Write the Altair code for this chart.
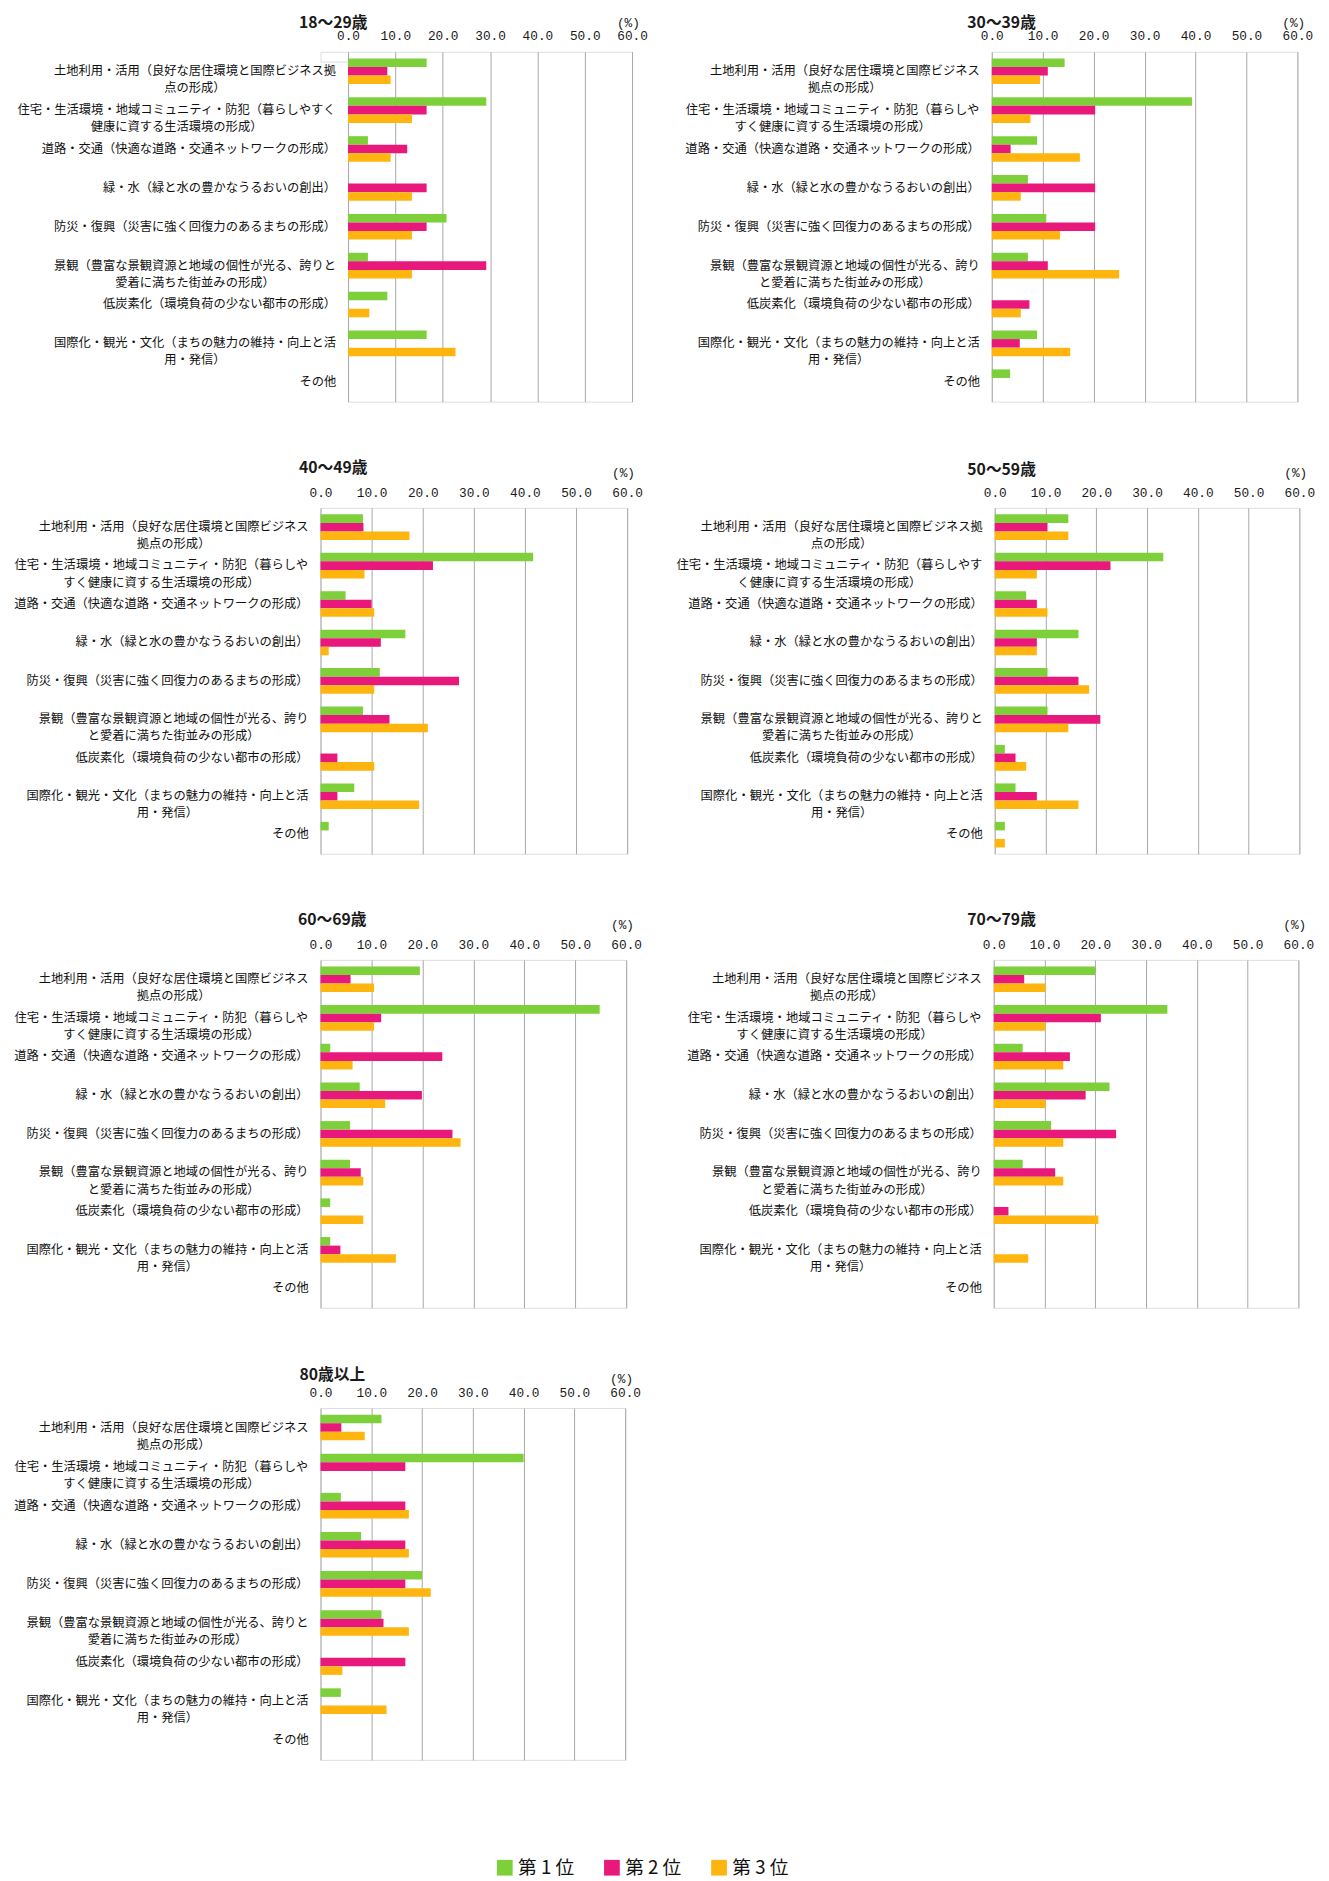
import altair as alt
import pandas as pd

FONT = "Noto Sans CJK JP"
MONO = "Liberation Mono"

ages = ["18～29歳", "30～39歳", "40～49歳", "50～59歳", "60～69歳", "70～79歳", "80歳以上"]
categories = [
    "土地利用・活用（良好な居住環境と国際ビジネス拠点の形成）",
    "住宅・生活環境・地域コミュニティ・防犯（暮らしやすく健康に資する生活環境の形成）",
    "道路・交通（快適な道路・交通ネットワークの形成）",
    "緑・水（緑と水の豊かなうるおいの創出）",
    "防災・復興（災害に強く回復力のあるまちの形成）",
    "景観（豊富な景観資源と地域の個性が光る、誇りと愛着に満ちた街並みの形成）",
    "低炭素化（環境負荷の少ない都市の形成）",
    "国際化・観光・文化（まちの魅力の維持・向上と活用・発信）",
    "その他",
]
ranks = ["第 1 位", "第 2 位", "第 3 位"]
rank_colors = ["#7ed03b", "#e8197b", "#ffb50f"]
ticks = [0, 10, 20, 30, 40, 50, 60]

# values (%), per age group and rank
v18_29_r1 = [16.6, 29.2, 4.2, 0, 20.8, 4.2, 8.3, 16.6, 0]
v18_29_r2 = [8.3, 16.6, 12.5, 16.6, 16.6, 29.2, 0, 0, 0]
v18_29_r3 = [9.0, 13.5, 9.0, 13.5, 13.5, 13.5, 4.5, 22.7, 0]

v30_39_r1 = [14.3, 39.3, 8.9, 7.1, 10.7, 7.1, 0, 8.9, 3.6]
v30_39_r2 = [11.0, 20.3, 3.7, 20.3, 20.3, 11.0, 7.4, 5.5, 0]
v30_39_r3 = [9.5, 7.6, 17.3, 5.7, 13.4, 25.0, 5.7, 15.4, 0]

v40_49_r1 = [8.3, 41.6, 4.9, 16.6, 11.6, 8.3, 0, 6.6, 1.6]
v40_49_r2 = [8.4, 22.0, 10.0, 11.8, 27.1, 13.5, 3.3, 3.3, 0]
v40_49_r3 = [17.4, 8.6, 10.5, 1.6, 10.5, 21.0, 10.5, 19.3, 0]

v50_59_r1 = [14.5, 33.2, 6.2, 16.5, 10.4, 10.4, 2.0, 4.1, 2.0]
v50_59_r2 = [10.4, 22.8, 8.3, 8.3, 16.5, 20.8, 4.1, 8.3, 0]
v50_59_r3 = [14.5, 8.3, 10.4, 8.3, 18.6, 14.5, 6.2, 16.5, 2.0]

v60_69_r1 = [19.5, 54.8, 1.9, 7.7, 5.8, 5.8, 1.9, 1.9, 0]
v60_69_r2 = [5.9, 11.9, 23.9, 19.9, 25.9, 7.9, 0, 3.9, 0]
v60_69_r3 = [10.5, 10.5, 6.3, 12.7, 27.5, 8.4, 8.4, 14.8, 0]

v70_79_r1 = [20.0, 34.2, 5.7, 22.8, 11.3, 5.7, 0, 0, 0]
v70_79_r2 = [6.0, 21.1, 15.0, 18.1, 24.1, 12.1, 2.9, 0, 0]
v70_79_r3 = [10.2, 10.2, 13.7, 10.2, 13.7, 13.7, 20.6, 6.8, 0]

v80_r1 = [12.0, 40.0, 4.0, 8.0, 20.0, 12.0, 0, 4.0, 0]
v80_r2 = [4.1, 16.7, 16.7, 16.7, 16.7, 12.4, 16.7, 0, 0]
v80_r3 = [8.7, 0, 17.4, 17.4, 21.7, 17.4, 4.3, 13.0, 0]

series = {
    "18～29歳": (v18_29_r1, v18_29_r2, v18_29_r3),
    "30～39歳": (v30_39_r1, v30_39_r2, v30_39_r3),
    "40～49歳": (v40_49_r1, v40_49_r2, v40_49_r3),
    "50～59歳": (v50_59_r1, v50_59_r2, v50_59_r3),
    "60～69歳": (v60_69_r1, v60_69_r2, v60_69_r3),
    "70～79歳": (v70_79_r1, v70_79_r2, v70_79_r3),
    "80歳以上": (v80_r1, v80_r2, v80_r3),
}

# where the long labels wrap (characters on first line) for categories 1, 2, 6, 8
wraps = {
    "18～29歳": (23, 26, 23, 23),
    "30～39歳": (22, 24, 22, 23),
    "40～49歳": (22, 24, 22, 23),
    "50～59歳": (23, 25, 23, 23),
    "60～69歳": (22, 24, 22, 23),
    "70～79歳": (22, 24, 22, 23),
    "80歳以上": (22, 24, 23, 23),
}

# layout: plot width, height, title dx, title dy, (%) dy
layout = {
    "18～29歳": (289, 356, -15, -29, -29),
    "30～39歳": (311, 356, 10, -29, -29),
    "40～49歳": (312, 352, 13, -40, -35),
    "50～59歳": (310, 352, 7, -38, -35),
    "60～69歳": (311, 354, 12, -40, -35),
    "70～79歳": (310, 354, 8, -40, -35),
    "80歳以上": (310, 358, 12, -34, -29),
}

LFS = 12.5


def wrapped_labels(age):
    w = wraps[age]
    idx = {0: w[0], 1: w[1], 5: w[2], 7: w[3]}
    out = []
    for i, c in enumerate(categories):
        if i in idx and idx[i] < len(c):
            out.append(c[: idx[i]] + "\n" + c[idx[i]:])
        else:
            out.append(c)
    return out


def panel(age):
    width, height, tdx, tdy, pdy = layout[age]
    r1, r2, r3 = series[age]
    rows = []
    for rk, vals in zip(ranks, (r1, r2, r3)):
        for c, v in zip(categories, vals):
            rows.append({"cat": c, "rank": rk, "value": v})
    df = pd.DataFrame(rows)
    ldf = pd.DataFrame({"cat": categories, "label": wrapped_labels(age)})

    yenc = alt.Y(
        "cat:N",
        sort=categories,
        axis=None,
        scale=alt.Scale(paddingInner=0.34, paddingOuter=0.17),
    )

    bars = alt.Chart(df).mark_bar().encode(
        x=alt.X(
            "value:Q",
            scale=alt.Scale(domain=[0, 60], nice=False),
            axis=alt.Axis(
                orient="top",
                values=ticks,
                format=".1f",
                grid=True,
                gridColor="#a6a6a6",
                gridWidth=1,
                domain=False,
                ticks=False,
                tickSize=0,
                labelFont=MONO,
                labelFontSize=13,
                labelColor="#1a1a1a",
                labelPadding=9,
                labelFlush=False,
                title=None,
            ),
        ),
        y=yenc,
        yOffset=alt.YOffset(
            "rank:N", sort=ranks, scale=alt.Scale(paddingInner=0, paddingOuter=0)
        ),
        color=alt.Color(
            "rank:N",
            sort=ranks,
            scale=alt.Scale(domain=ranks, range=rank_colors),
            legend=alt.Legend(
                orient="none",
                legendX=178,
                legendY=1838,
                direction="horizontal",
                title=None,
                symbolType="square",
                symbolSize=256,
                symbolStrokeWidth=0,
                symbolOpacity=1,
                labelFont=FONT,
                labelFontSize=19,
                labelColor="#111111",
                columnPadding=28,
                labelOffset=4,
                padding=0,
            ),
        ),
    )

    labels = (
        alt.Chart(ldf)
        .transform_calculate(
            cx="-12 - max(length(split(datum.label, '\\n')[0]), length(peek(split(datum.label, '\\n')))) * "
            + str(LFS)
            + " / 2"
        )
        .mark_text(
            align="center",
            baseline="middle",
            lineBreak="\n",
            lineHeight=17.5,
            font=FONT,
            fontSize=LFS,
            color="#111111",
        )
        .encode(
            y=yenc,
            x=alt.X("cx:Q", scale=None, axis=None),
            text="label:N",
        )
    )

    title = (
        alt.Chart(pd.DataFrame({"t": [age]}))
        .mark_text(
            align="center",
            baseline="middle",
            font=FONT,
            fontSize=16,
            fontWeight="bold",
            color="#1a1a1a",
        )
        .encode(text="t:N", x=alt.value(tdx), y=alt.value(tdy))
    )

    pct = (
        alt.Chart(pd.DataFrame({"t": ["(%)"]}))
        .mark_text(
            align="right",
            baseline="middle",
            font=MONO,
            fontSize=13,
            color="#1a1a1a",
        )
        .encode(text="t:N", x=alt.value(width + 8), y=alt.value(pdy))
    )

    return alt.layer(bars, labels, title, pct).properties(width=width, height=height)


# invisible spacer that pushes the first panel to the right
spacer = (
    alt.Chart(pd.DataFrame({"s": [0]}))
    .mark_point(opacity=0)
    .encode(x=alt.value(0), y=alt.value(0))
    .properties(width=28, height=10)
)

row1 = alt.hconcat(
    spacer,
    alt.hconcat(panel(ages[0]), panel(ages[1]), spacing=366, bounds="flush"),
    spacing=0,
    bounds="flush",
)
row2 = alt.hconcat(panel(ages[2]), panel(ages[3]), spacing=374, bounds="flush")
row3 = alt.hconcat(panel(ages[4]), panel(ages[5]), spacing=374, bounds="flush")
row4 = panel(ages[6])

chart = (
    alt.vconcat(row1, row2, row3, row4, spacing=58)
    .properties(padding={"left": 5, "top": -10, "right": 5, "bottom": 5})
    .configure_view(stroke=None)
    .configure(background="white")
)

chart.save("out.html", embed_options={"renderer": "svg", "actions": False})
